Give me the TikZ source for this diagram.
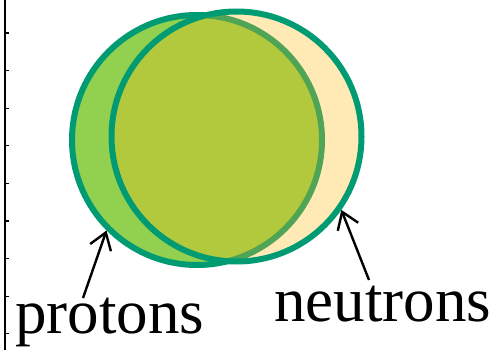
\documentclass[tikz,border=0pt]{standalone}
\usepackage{fontspec}
\setmainfont{Liberation Serif}
\usepackage{xcolor}
\usetikzlibrary{arrows.meta}
\definecolor{rim}{RGB}{0,155,115}
\definecolor{protfill}{RGB}{146,208,80}
\definecolor{neutfill}{RGB}{255,187,20}

\begin{document}
\begin{tikzpicture}
		[x=1pt,y=-1pt,
		blob/.style={circle,inner sep=0pt,minimum size=250pt,line width=6pt,draw=rim},
		lbl/.style={inner sep=0pt,anchor=base west,font=\fontsize{63}{63}\selectfont},
		pointer/.style={line width=2.4pt,-{Straight Barb[length=16pt,width=22pt,line width=2.4pt]}}]
		\useasboundingbox (0,0) rectangle (493,350);
		\draw [line width=1.5pt] (5,0) -- (5,350);
		\foreach \k in {0,...,8}
			\draw [line width=1.2pt] (5,33+37.6*\k) -- (9,33+37.6*\k);
		\node [blob, fill=protfill] (p) at (197,140) {};
		\node [blob, fill=neutfill, fill opacity=0.31, draw opacity=1] (n) at (236.5,136.5) {};
		\node [lbl] (ptxt) at (15,333) {protons};
		\node [lbl] (ntxt) at (274,321) {neutrons};
		\coordinate (pfoot) at (83,298);
		\coordinate (nfoot) at (369,280);
		\draw [pointer] (pfoot) -- (p.225);
		\draw [pointer] (nfoot) -- (n.325);
	\end{tikzpicture}
\end{document}
